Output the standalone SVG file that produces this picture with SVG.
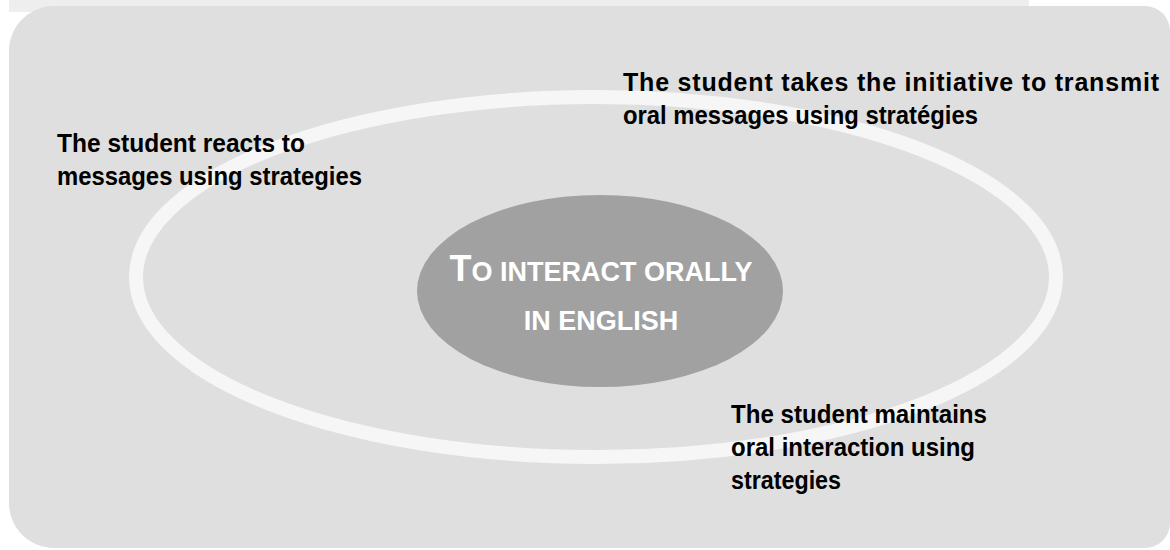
<svg xmlns="http://www.w3.org/2000/svg" width="1170" height="550" viewBox="0 0 1170 550">
  <style>
    .lbl { font-family: "Liberation Sans", Arial, sans-serif; font-weight: bold; font-size: 25px; fill: #000000; }
    .ctr { font-family: "Liberation Sans", Arial, sans-serif; font-weight: bold; fill: #ffffff; text-anchor: middle; }
  </style>
  <rect x="0" y="0" width="1170" height="550" fill="#ffffff"/>
  <rect x="9" y="0" width="1020" height="12" fill="#eeeeee"/>
  <path d="M 54 6 H 1145 A 25 25 0 0 1 1170 31 V 523 A 25 25 0 0 1 1145 548 H 54 A 45 45 0 0 1 9 503 V 51 A 45 45 0 0 1 54 6 Z" fill="#dfdfdf"/>
  <g id="ring">
    <ellipse cx="596" cy="277" rx="460" ry="180" fill="none" stroke="#f6f6f6" stroke-width="14"/>
  </g>
  <g id="center-node">
    <ellipse cx="600" cy="291" rx="183" ry="96" fill="#a1a1a1"/>
    <text class="ctr" x="601" y="281"><tspan font-size="36">T</tspan><tspan font-size="27">O INTERACT ORALLY</tspan></text>
    <text class="ctr" x="601" y="330" font-size="27">IN ENGLISH</text>
  </g>
  <g id="label-reacts">
    <text class="lbl" x="57" y="152" textLength="248" lengthAdjust="spacingAndGlyphs">The student reacts to</text>
    <text class="lbl" x="57" y="185" textLength="305" lengthAdjust="spacingAndGlyphs">messages using strategies</text>
  </g>
  <g id="label-initiative">
    <text class="lbl" x="623" y="91" textLength="536" lengthAdjust="spacing">The student takes the initiative to transmit</text>
    <text class="lbl" x="623" y="124" textLength="355" lengthAdjust="spacingAndGlyphs">oral messages using stratégies</text>
  </g>
  <g id="label-maintains">
    <text class="lbl" x="731" y="423" textLength="256" lengthAdjust="spacingAndGlyphs">The student maintains</text>
    <text class="lbl" x="731" y="456" textLength="244" lengthAdjust="spacingAndGlyphs">oral interaction using</text>
    <text class="lbl" x="731" y="489" textLength="110" lengthAdjust="spacingAndGlyphs">strategies</text>
  </g>
  <g id="connectors"/>
</svg>
